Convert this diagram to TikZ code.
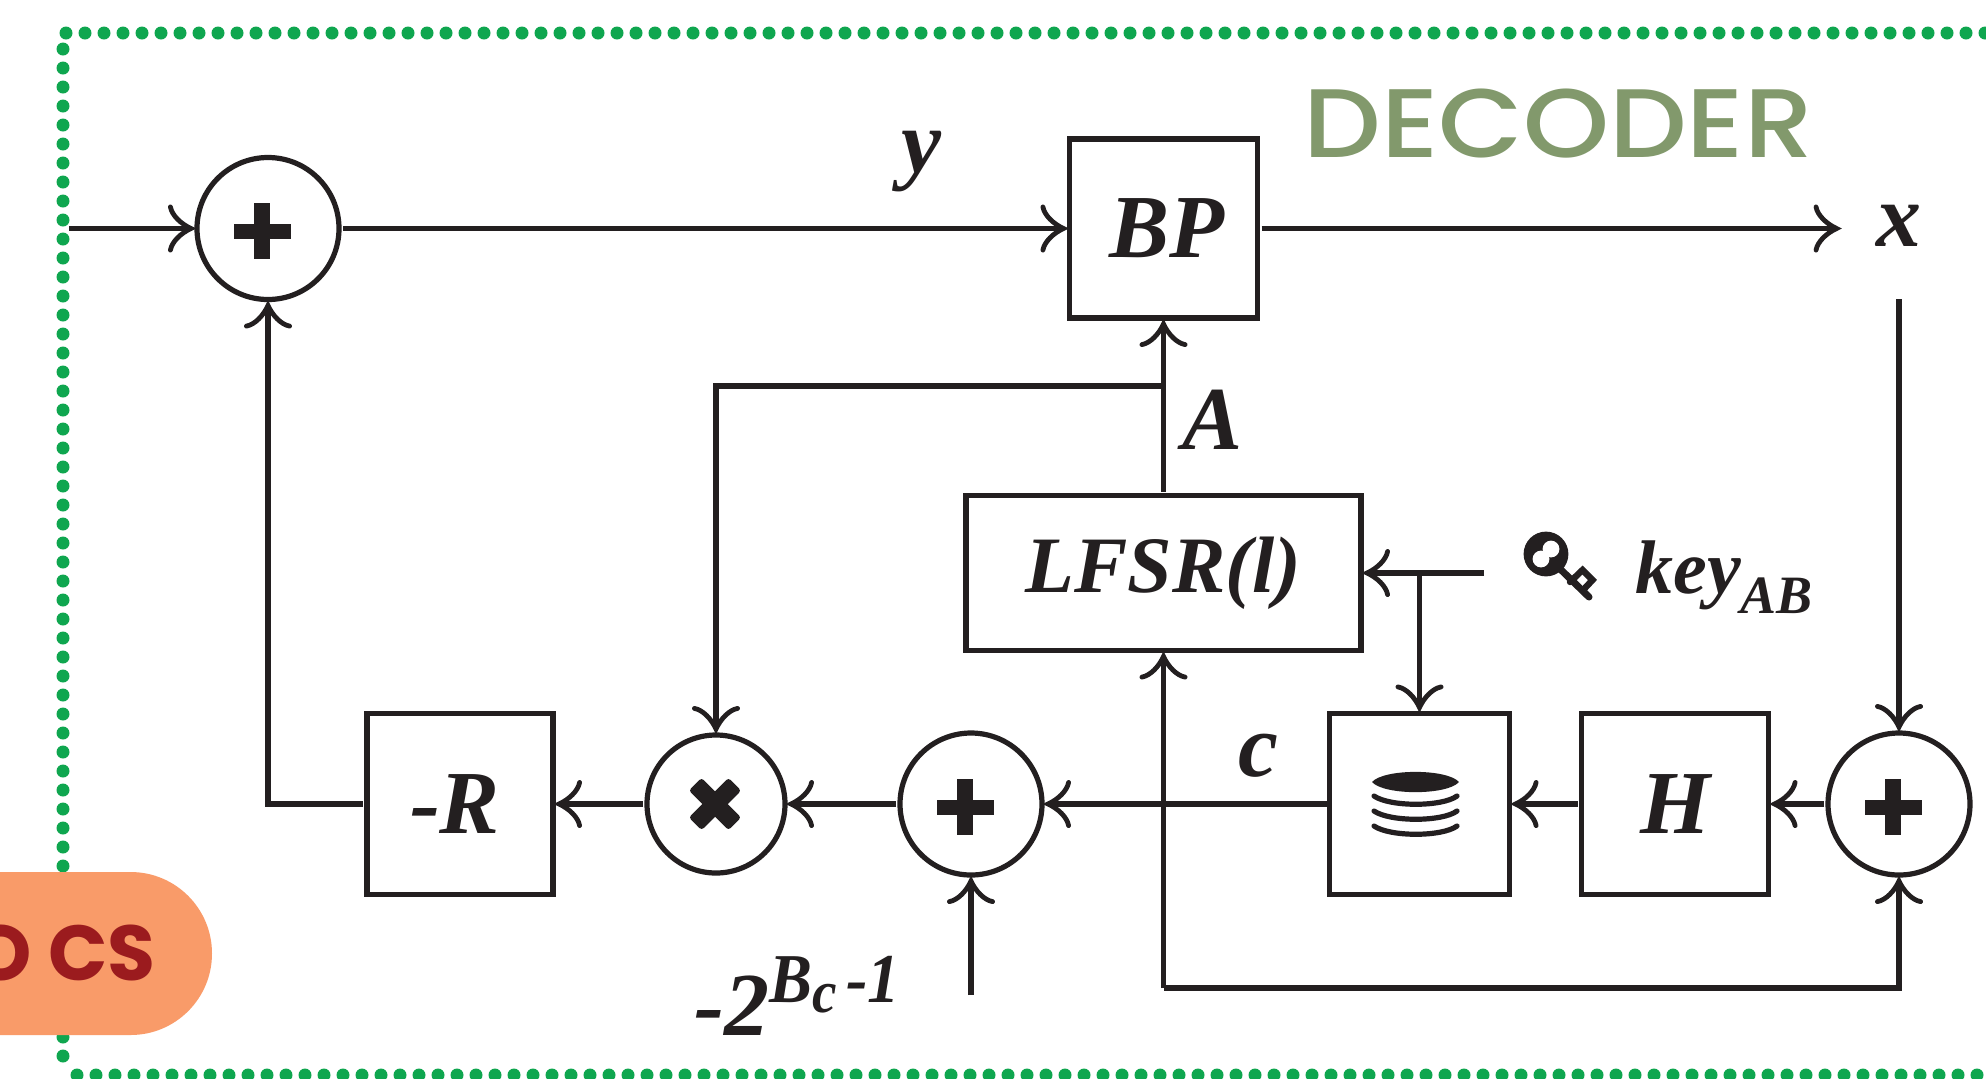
\documentclass[tikz,border=0pt]{standalone}
\usepackage{fontspec}
\setmainfont{Liberation Serif}
\newfontfamily\popmed{Poppins Medium}
\newfontfamily\popbold{Poppins}[UprightFont=*,BoldFont=* Bold]
\usetikzlibrary{arrows.meta}
\definecolor{ink}{HTML}{231F20}
\definecolor{dotgreen}{HTML}{0FA64F}
\definecolor{sagegreen}{HTML}{82996C}
\definecolor{peach}{HTML}{F99B69}
\definecolor{wine}{HTML}{9B1B1E}
\newcommand\lab{\fontsize{45}{50}\selectfont\bfseries\itshape}
\pgfdeclarearrow{
  name=CurveBarb,
  setup code={%
    \pgfarrowssettipend{0pt}%
    \pgfarrowssetlineend{-2.5pt}%
    \pgfarrowssetvisualbackend{-11.3pt}%
    \pgfarrowssetbackend{-11.3pt}%
    \pgfarrowshullpoint{0pt}{0pt}%
    \pgfarrowshullpoint{-11.3pt}{10.8pt}%
    \pgfarrowshullpoint{-11.3pt}{-10.8pt}%
  },
  drawing code={%
    \pgfsetlinewidth{2.4pt}%
    \pgfsetroundcap
    \pgfsetmiterjoin
    \pgfpathmoveto{\pgfpoint{-11.3pt}{10.8pt}}%
    \pgfpathcurveto{\pgfpoint{-10.5pt}{6.5pt}}{\pgfpoint{-6pt}{2.3pt}}{\pgfpoint{-1pt}{0pt}}%
    \pgfpathcurveto{\pgfpoint{-6pt}{-2.3pt}}{\pgfpoint{-10.5pt}{-6.5pt}}{\pgfpoint{-11.3pt}{-10.8pt}}%
    \pgfusepathqstroke
  }
}
\tikzset{
  arr/.style={ink,line width=2.6pt,-{CurveBarb}},
  wire/.style={ink,line width=2.6pt},
  boxn/.style={draw=ink,line width=2.6pt,fill=white,inner sep=0pt,outer sep=2pt,minimum height=90.5pt,font=\lab,text=ink},
  circn/.style={draw=ink,line width=2.6pt,circle,inner sep=0pt,outer sep=2pt,minimum size=71pt},
  txt/.style={inner sep=0pt,font=\lab,text=ink},
  dots/.style={dotgreen,line width=6.5pt,line cap=round,dash pattern=on 0pt off 9.5pt},
  plussign/.pic={\fill[ink] (-28.5,-7.5) rectangle (28.5,7.5);\fill[ink] (-8,-28) rectangle (8,28);},
  crosssign/.pic={\fill[ink,rounded corners=1.5pt,rotate=45] (-28,-9) rectangle (28,9);\fill[ink,rounded corners=1.5pt,rotate=-45] (-28,-9) rectangle (28,9);},
}
\begin{document}
\begin{tikzpicture}[x=0.5pt,y=-0.5pt]
\clip (0,0) rectangle (1986,1078);
\fill[white] (0,0) rectangle (1986,1078);
% dotted frame
\draw[dots] (66,33) -- (2000,33);
\draw[dots] (63,49) -- (63,1073);
\draw[dots] (77,1075) -- (2000,1075);
% CS badge
\fill[peach,rounded corners=40.7pt] (-200,872) rectangle (212,1035);
\node[anchor=base east,inner sep=0pt,text=wine,font=\fontsize{39}{40}\selectfont\popbold\bfseries] (cs) at (156,980) {O CS};
% heading
\node[anchor=base west,inner sep=0pt,text=sagegreen,font=\fontsize{48.7}{50}\selectfont\popmed] (dec) at (1303,157) {\scalebox{1.125}[1]{DECODER}};
% nodes
\node[circn] (c1) at (268,228.5) {};
\node[boxn,minimum width=94pt,minimum height=89.5pt] (bp) at (1163.5,228.5) {\hspace{3pt}BP};
\node[boxn,minimum width=197.5pt,minimum height=77.5pt,font=\fontsize{40}{44}\selectfont\bfseries\itshape] (lfsr) at (1163.5,573) {\raisebox{-1pt}{LFSR(l)}};
\node[boxn,minimum width=93pt] (r) at (460,804) {-R\kern5pt\relax};
\node[circn,minimum size=69pt] (mul) at (716,804) {};
\node[circn] (c3) at (971,804) {};
\node[boxn,minimum width=90pt] (st) at (1419.5,804) {};
\node[boxn,minimum width=93.5pt] (h) at (1675,804) {H};
\node[circn] (c4) at (1899,804) {};
\pic at (262,231) {plussign};
\pic at (965,807) {plussign};
\pic at (1893,807) {plussign};
\pic at (715,804) {crosssign};
% labels
\node[txt] (ly) at (921,162) {y};
\node[txt,minimum width=60pt,minimum height=70.5pt] (lx) at (1899,228.5) {\raisebox{3pt}{x}};
\node[txt] (la) at (1212,420) {A};
\node[txt] (lc) at (1258,756) {c};
\node[txt,anchor=base west,font=\fontsize{38}{40}\selectfont\bfseries\itshape] (lk) at (1635,593) {key\raisebox{-10pt}{\fontsize{27}{30}\selectfont AB}};
\node[txt,anchor=base west] (lb) at (694,1035) {-2\raisebox{16.5pt}{\scalebox{.92}[1]{\fontsize{35}{37}\selectfont B\raisebox{-5pt}{\fontsize{30}{32}\selectfont c}\hspace{5pt}-1}}};
% coordinates
\coordinate (inp) at (69,228.5);
\coordinate (jA) at (1163.5,386);
\coordinate (kin) at (1484,573);
\coordinate (jK) at (1419.5,573);
\coordinate (bot) at (1163.5,988);
\coordinate (bin) at (971,995);
% connectors
\draw[arr] (inp) -- (c1.west);
\draw[arr] (c1.east) -- (bp.west);
\draw[arr] (bp.east) -- (lx.west);
\draw[arr] (lx.south) -- (c4.north);
\draw[arr] (c4.west) -- (h.east);
\draw[arr] (h.west) -- (st.east);
\draw[arr,shorten <=-2pt] (st.west) -- (c3.east);
\draw[arr] (c3.west) -- (mul.east);
\draw[arr] (mul.west) -- (r.east);
\draw[arr] (r.west) -| (c1.south);
\draw[arr] (lfsr.north) -- (bp.south);
\draw[arr] (jA) -| (mul.north);
\draw[arr] (kin) -- (lfsr.east);
\draw[arr] (jK) -- (st.north);
\draw[arr] (bot) -- (lfsr.south);
\draw[arr] (bot) -| (c4.south);
\draw[arr] (bin) -- (c3.south);
% stack icon
\fill[ink] (1372,782) .. controls (1384,768.5) and (1447,768.5) .. (1459,782) .. controls (1447,795.5) and (1384,795.5) .. (1372,782) -- cycle;
\draw[wire,line cap=round] (1374,796) .. controls (1390,807) and (1442,807) .. (1457,796);
\draw[wire,line cap=round] (1374,811) .. controls (1390,822) and (1442,822) .. (1457,811);
\draw[wire,line cap=round] (1374,826) .. controls (1390,837) and (1442,837) .. (1457,826);
% key icon
\fill[ink] (1546,554) circle[radius=11.2pt];
\fill[white] (1541,559) circle[radius=4.2pt];
\fill[white] (1551,549) circle[radius=4.2pt];
\draw[ink,line width=3.5pt,line cap=round] (1556,565) -- (1589,597);
\draw[ink,line width=3.2pt,line cap=round] (1570,582) -- (1582.5,570) -- (1592.5,580) -- (1585,588);
\end{tikzpicture}
\end{document}
